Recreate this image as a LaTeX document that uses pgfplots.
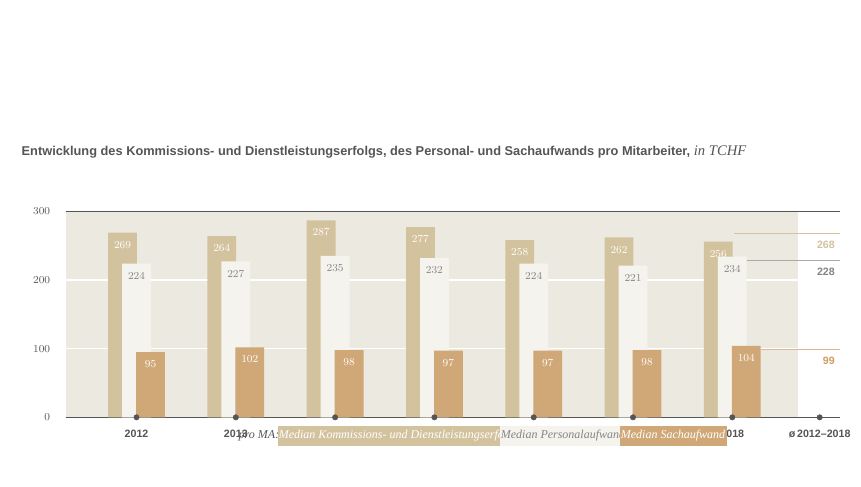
\documentclass[border=0pt]{standalone}
\usepackage{pgfplots}
\pgfplotsset{compat=1.18}
\usepackage{fontspec}
\setmainfont{Liberation Sans}
\newfontfamily\serif{Liberation Serif}
\definecolor{commc}{HTML}{D3C29E}
\definecolor{persc}{HTML}{F5F3EE}
\definecolor{sachc}{HTML}{D0A776}
\definecolor{panel}{HTML}{ECEAE0}
\definecolor{dk}{HTML}{555555}
\definecolor{gr}{HTML}{858585}
\definecolor{avgs}{HTML}{D09A60}
\begin{document}
\begin{tikzpicture}[x=0.75pt,y=0.75pt]
\useasboundingbox (0,0) rectangle (861,486);
\node[anchor=west,text=dk,font=\bfseries\fontsize{9.6}{11}\selectfont] at (17,334) {Entwicklung des Kommissions- und Dienstleistungserfolgs, des Personal- und Sachaufwands pro Mitarbeiter, {\serif\mdseries\itshape\fontsize{11}{12}\selectfont in TCHF}};
\begin{axis}[at={(66,100)},anchor=south west,scale only axis,
 width=580.5pt,height=154.5pt,
 xmin=-0.715,xmax=7.08,ymin=0,ymax=300,clip=false,
 axis line style={draw=none},major tick length=0pt,
 ytick={0,100,200,300},
 yticklabel style={font=\bfseries\fontsize{8}{9}\selectfont,text=dk,xshift=-8pt},
 xtick={0,1,2,3,4,5,6,6.88},
 xticklabels={2012,2013,2014,2015,2016,2017,2018,ø\,2012–2018},
 xticklabel style={font=\bfseries\fontsize{8}{9}\selectfont,text=dk,yshift=-6pt},
 ybar, bar width=0.29,
 nodes near coords,
 every node near coord/.append style={anchor=north,yshift=-3pt,font=\bfseries\fontsize{8}{9}\selectfont,text=white},
]
\fill[panel] (axis cs:-0.715,0) rectangle (axis cs:6.66,300);
\draw[white,line width=1pt] (axis cs:-0.715,100) -- (axis cs:6.66,100);
\draw[white,line width=1pt] (axis cs:-0.715,200) -- (axis cs:6.66,200);
\draw[dk,line width=1pt] (axis cs:-0.715,300) -- (axis cs:7.08,300);
\draw[dk,line width=1pt] (axis cs:-0.715,0) -- (axis cs:7.08,0);
\addplot[fill=commc,draw=none,bar shift=-0.141] coordinates {(0,269)(1,264)(2,287)(3,277)(4,258)(5,262)(6,256)};
\addplot[fill=persc,draw=none,bar shift=0,every node near coord/.append style={text=gr}] coordinates {(0,224)(1,227)(2,235)(3,232)(4,224)(5,221)(6,234)};
\addplot[fill=sachc,draw=none,bar shift=0.141] coordinates {(0,95)(1,102)(2,98)(3,97)(4,97)(5,98)(6,104)};
\addplot[sharp plot,nodes near coords=,commc,line width=0.8pt] coordinates {(6.02,268)(7.08,268)};
\addplot[sharp plot,nodes near coords=,gr!70,line width=0.8pt] coordinates {(6.15,228)(7.08,228)};
\addplot[sharp plot,nodes near coords=,avgs!70,line width=0.8pt] coordinates {(6.29,99)(7.08,99)};
\addplot[only marks,nodes near coords=,mark=*,mark size=2pt,dk] coordinates {(0,0)(1,0)(2,0)(3,0)(4,0)(5,0)(6,0)(6.88,0)};
\node[anchor=north east,font=\bfseries\fontsize{8}{9}\selectfont,text=commc] at (axis cs:7.08,264) {268};
\node[anchor=north east,font=\bfseries\fontsize{8}{9}\selectfont,text=gr] at (axis cs:7.08,224) {228};
\node[anchor=north east,font=\bfseries\fontsize{8}{9}\selectfont,text=avgs] at (axis cs:7.08,95) {99};
\end{axis}
\begin{scope}[font=\serif\itshape\fontsize{9}{10}\selectfont]
\node[anchor=east,text=dk] at (284,50) {pro MA:};
\node[fill=commc,text=white,minimum height=15pt,minimum width=162pt,inner xsep=1pt] at (396,50) {Median Kommissions- und Dienstleistungserfolg};
\node[fill=persc,text=gr,minimum height=15pt,minimum width=85.5pt,inner xsep=1pt] at (563,50) {Median Personalaufwand};
\node[fill=sachc,text=white,minimum height=15pt,minimum width=76.5pt,inner xsep=1pt] at (673,50) {Median Sachaufwand};
\end{scope}
\end{tikzpicture}
\end{document}
